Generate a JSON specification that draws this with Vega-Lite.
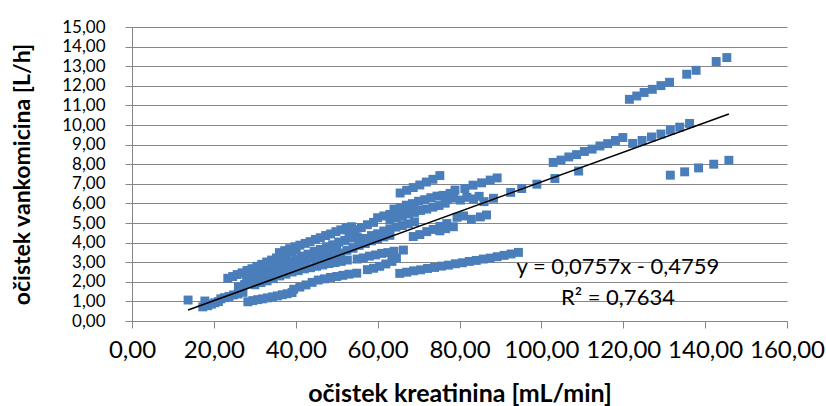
{
  "$schema": "https://vega.github.io/schema/vega-lite/v6.json",
  "width": 655,
  "height": 294,
  "autosize": {"type": "none"},
  "padding": {"left": 132, "top": 27, "right": 39, "bottom": 85},
  "background": "white",
  "config": {
    "view": {"stroke": null},
    "font": "Lato",
    "axis": {
      "labelFont": "Lato",
      "titleFont": "Lato",
      "labelColor": "#000000",
      "titleColor": "#000000",
      "domainColor": "#868686",
      "tickColor": "#868686",
      "gridColor": "#868686",
      "domainWidth": 1,
      "tickWidth": 1,
      "gridWidth": 1
    }
  },
  "datasets": {
    "pts": [
      {"x": 13.7, "y": 1.07}, {"x": 17.3, "y": 0.72}, {"x": 17.8, "y": 1.02}, {"x": 18.5, "y": 0.78}, {"x": 19.4, "y": 0.86}, {"x": 20.2, "y": 0.93}, {"x": 21.1, "y": 0.99}, {"x": 21.7, "y": 1.13}, {"x": 22.6, "y": 1.19}, {"x": 23.7, "y": 1.25}, {"x": 24.8, "y": 1.33}, {"x": 25.9, "y": 1.38}, {"x": 27.1, "y": 1.46},
      {"x": 23.4, "y": 2.18}, {"x": 24.6, "y": 2.27}, {"x": 25.7, "y": 2.37}, {"x": 26.9, "y": 2.46}, {"x": 28.1, "y": 2.58}, {"x": 29.3, "y": 2.67}, {"x": 30.5, "y": 2.79}, {"x": 31.7, "y": 2.89}, {"x": 32.9, "y": 3.01}, {"x": 34.1, "y": 3.11}, {"x": 35.3, "y": 3.22}, {"x": 36.5, "y": 3.33}, {"x": 37.7, "y": 3.43}, {"x": 38.9, "y": 3.54}, {"x": 40.1, "y": 3.63},
      {"x": 36.0, "y": 3.49}, {"x": 37.3, "y": 3.59}, {"x": 38.5, "y": 3.69}, {"x": 39.8, "y": 3.79}, {"x": 41.0, "y": 3.87}, {"x": 42.3, "y": 3.96}, {"x": 43.5, "y": 4.05}, {"x": 44.8, "y": 4.16}, {"x": 46.0, "y": 4.25}, {"x": 47.3, "y": 4.36}, {"x": 48.5, "y": 4.44}, {"x": 49.8, "y": 4.56}, {"x": 51.0, "y": 4.65}, {"x": 52.3, "y": 4.76}, {"x": 53.6, "y": 4.81},
      {"x": 53.0, "y": 4.53}, {"x": 54.5, "y": 4.66}, {"x": 56.0, "y": 4.77}, {"x": 57.5, "y": 4.91}, {"x": 59.0, "y": 5.03}, {"x": 60.0, "y": 5.27}, {"x": 61.5, "y": 5.36}, {"x": 63.0, "y": 5.44}, {"x": 64.5, "y": 5.56}, {"x": 66.0, "y": 5.65}, {"x": 67.5, "y": 5.79}, {"x": 68.9, "y": 5.91},
      {"x": 65.5, "y": 6.53}, {"x": 67.1, "y": 6.67}, {"x": 68.7, "y": 6.81}, {"x": 70.3, "y": 6.94}, {"x": 71.9, "y": 7.09}, {"x": 73.5, "y": 7.23}, {"x": 75.2, "y": 7.42},
      {"x": 64.0, "y": 5.71}, {"x": 65.5, "y": 5.79}, {"x": 67.0, "y": 5.91}, {"x": 68.5, "y": 5.99}, {"x": 70.0, "y": 6.11}, {"x": 71.5, "y": 6.19}, {"x": 73.0, "y": 6.29}, {"x": 74.5, "y": 6.37}, {"x": 76.0, "y": 6.41}, {"x": 77.7, "y": 6.51},
      {"x": 63.0, "y": 5.14}, {"x": 64.5, "y": 5.26}, {"x": 66.0, "y": 5.34}, {"x": 67.5, "y": 5.46}, {"x": 69.0, "y": 5.54}, {"x": 70.5, "y": 5.64}, {"x": 72.0, "y": 5.71}, {"x": 73.5, "y": 5.81}, {"x": 75.0, "y": 5.89}, {"x": 76.5, "y": 6.01},
      {"x": 77.0, "y": 6.19}, {"x": 78.6, "y": 6.27}, {"x": 80.2, "y": 6.17}, {"x": 81.8, "y": 6.31}, {"x": 83.4, "y": 6.23}, {"x": 84.8, "y": 6.36}, {"x": 86.0, "y": 6.09}, {"x": 88.3, "y": 6.26},
      {"x": 78.9, "y": 6.68}, {"x": 81.3, "y": 6.76}, {"x": 83.3, "y": 6.93}, {"x": 85.4, "y": 7.05}, {"x": 87.5, "y": 7.19}, {"x": 89.2, "y": 7.30},
      {"x": 92.5, "y": 6.56}, {"x": 95.2, "y": 6.76}, {"x": 98.9, "y": 6.98}, {"x": 103.3, "y": 7.27}, {"x": 109.1, "y": 7.65},
      {"x": 102.9, "y": 8.09}, {"x": 104.8, "y": 8.21}, {"x": 106.7, "y": 8.37}, {"x": 108.6, "y": 8.49}, {"x": 110.5, "y": 8.65}, {"x": 112.4, "y": 8.77}, {"x": 114.3, "y": 8.93}, {"x": 116.2, "y": 9.05}, {"x": 118.1, "y": 9.21}, {"x": 119.9, "y": 9.36},
      {"x": 122.3, "y": 9.06}, {"x": 124.6, "y": 9.21}, {"x": 126.9, "y": 9.39}, {"x": 129.2, "y": 9.54}, {"x": 131.5, "y": 9.73}, {"x": 133.8, "y": 9.89}, {"x": 136.2, "y": 10.08},
      {"x": 121.5, "y": 11.31}, {"x": 123.3, "y": 11.48}, {"x": 125.1, "y": 11.66}, {"x": 127.1, "y": 11.82}, {"x": 129.2, "y": 12.01}, {"x": 131.3, "y": 12.18}, {"x": 135.5, "y": 12.59}, {"x": 137.8, "y": 12.79}, {"x": 142.7, "y": 13.24}, {"x": 145.3, "y": 13.44},
      {"x": 131.5, "y": 7.44}, {"x": 135.0, "y": 7.61}, {"x": 138.4, "y": 7.81}, {"x": 142.1, "y": 8.00}, {"x": 145.8, "y": 8.20},
      {"x": 65.4, "y": 2.43}, {"x": 67.1, "y": 2.49}, {"x": 68.8, "y": 2.56}, {"x": 70.5, "y": 2.61}, {"x": 72.2, "y": 2.68}, {"x": 73.9, "y": 2.73}, {"x": 75.6, "y": 2.80}, {"x": 77.3, "y": 2.85}, {"x": 79.0, "y": 2.92}, {"x": 80.7, "y": 2.97}, {"x": 82.4, "y": 3.04}, {"x": 84.1, "y": 3.09}, {"x": 85.8, "y": 3.16}, {"x": 87.5, "y": 3.21}, {"x": 89.2, "y": 3.28}, {"x": 90.9, "y": 3.35}, {"x": 92.6, "y": 3.42}, {"x": 94.4, "y": 3.50},
      {"x": 28.3, "y": 0.98}, {"x": 29.5, "y": 1.04}, {"x": 30.7, "y": 1.09}, {"x": 31.9, "y": 1.13}, {"x": 33.1, "y": 1.18}, {"x": 34.3, "y": 1.23}, {"x": 35.5, "y": 1.28}, {"x": 36.7, "y": 1.34}, {"x": 37.9, "y": 1.39}, {"x": 39.1, "y": 1.45},
      {"x": 39.5, "y": 1.62}, {"x": 41.0, "y": 1.73}, {"x": 42.5, "y": 1.84}, {"x": 44.0, "y": 1.97}, {"x": 45.5, "y": 2.09}, {"x": 47.0, "y": 2.15}, {"x": 48.5, "y": 2.22}, {"x": 50.0, "y": 2.27}, {"x": 51.5, "y": 2.33}, {"x": 53.0, "y": 2.39}, {"x": 54.9, "y": 2.44},
      {"x": 30.0, "y": 1.85}, {"x": 31.5, "y": 1.96}, {"x": 33.0, "y": 2.05}, {"x": 34.5, "y": 2.16}, {"x": 36.1, "y": 2.30}, {"x": 37.6, "y": 2.39}, {"x": 39.1, "y": 2.50}, {"x": 40.6, "y": 2.57}, {"x": 42.1, "y": 2.66}, {"x": 43.6, "y": 2.72}, {"x": 45.1, "y": 2.79}, {"x": 46.6, "y": 2.86}, {"x": 48.1, "y": 2.93}, {"x": 49.6, "y": 2.98}, {"x": 51.1, "y": 3.04}, {"x": 52.6, "y": 3.11},
      {"x": 55.0, "y": 3.16}, {"x": 56.5, "y": 3.22}, {"x": 58.0, "y": 3.31}, {"x": 59.5, "y": 3.37}, {"x": 61.0, "y": 3.45}, {"x": 62.5, "y": 3.49}, {"x": 64.0, "y": 3.56}, {"x": 66.3, "y": 3.62},
      {"x": 57.5, "y": 2.62}, {"x": 59.0, "y": 2.69}, {"x": 60.5, "y": 2.79}, {"x": 62.0, "y": 2.91}, {"x": 63.5, "y": 3.04}, {"x": 64.6, "y": 3.21},
      {"x": 26.0, "y": 1.74}, {"x": 27.5, "y": 1.86}, {"x": 29.0, "y": 1.97}, {"x": 30.5, "y": 2.11}, {"x": 32.0, "y": 2.22}, {"x": 33.5, "y": 2.34}, {"x": 35.0, "y": 2.49}, {"x": 36.5, "y": 2.59}, {"x": 38.0, "y": 2.73}, {"x": 39.5, "y": 2.84}, {"x": 41.0, "y": 2.98}, {"x": 42.5, "y": 3.09}, {"x": 44.0, "y": 3.23}, {"x": 45.5, "y": 3.34}, {"x": 47.0, "y": 3.47}, {"x": 48.5, "y": 3.59}, {"x": 50.0, "y": 3.67},
      {"x": 28.0, "y": 2.24}, {"x": 29.5, "y": 2.36}, {"x": 31.0, "y": 2.44}, {"x": 32.5, "y": 2.56}, {"x": 34.0, "y": 2.67}, {"x": 35.5, "y": 2.81}, {"x": 37.0, "y": 2.91}, {"x": 38.5, "y": 3.06}, {"x": 40.0, "y": 3.17}, {"x": 41.5, "y": 3.31}, {"x": 43.0, "y": 3.41}, {"x": 44.5, "y": 3.56}, {"x": 46.0, "y": 3.65}, {"x": 47.5, "y": 3.79}, {"x": 49.0, "y": 3.89}, {"x": 50.5, "y": 4.03}, {"x": 52.0, "y": 4.11}, {"x": 53.5, "y": 4.23}, {"x": 55.0, "y": 4.29},
      {"x": 45.0, "y": 3.04}, {"x": 46.5, "y": 3.16}, {"x": 48.0, "y": 3.24}, {"x": 49.5, "y": 3.39}, {"x": 51.0, "y": 3.47}, {"x": 52.5, "y": 3.61}, {"x": 54.0, "y": 3.71}, {"x": 55.5, "y": 3.86}, {"x": 57.0, "y": 3.95}, {"x": 58.5, "y": 4.09}, {"x": 60.0, "y": 4.17}, {"x": 61.5, "y": 4.29}, {"x": 63.0, "y": 4.37},
      {"x": 55.5, "y": 4.11}, {"x": 57.0, "y": 4.21}, {"x": 58.5, "y": 4.36}, {"x": 60.0, "y": 4.45}, {"x": 61.5, "y": 4.59}, {"x": 63.0, "y": 4.67}, {"x": 64.5, "y": 4.79}, {"x": 66.0, "y": 4.87}, {"x": 67.5, "y": 4.96}, {"x": 69.0, "y": 5.06},
      {"x": 68.7, "y": 4.31}, {"x": 70.3, "y": 4.41}, {"x": 72.0, "y": 4.56}, {"x": 73.6, "y": 4.67}, {"x": 75.2, "y": 4.83}, {"x": 76.9, "y": 4.97},
      {"x": 75.2, "y": 4.60}, {"x": 76.6, "y": 4.71}, {"x": 78.5, "y": 4.81}, {"x": 79.4, "y": 5.29}, {"x": 81.0, "y": 5.36}, {"x": 82.9, "y": 5.19}, {"x": 85.1, "y": 5.31}, {"x": 86.6, "y": 5.41}
    ],
    "trend": [
      {"x": 13.7, "y": 0.5612},
      {"x": 145.8, "y": 10.5612}
    ],
    "notes": [
      {"x": 118.7, "y": 2.75, "label": "y = 0,0757x - 0,4759"},
      {"x": 118.7, "y": 1.17, "label": "R² = 0,7634"}
    ]
  },
  "encoding": {
    "x": {
      "field": "x",
      "type": "quantitative",
      "scale": {"domain": [0, 160], "nice": false, "zero": true},
      "axis": {
        "title": "očistek kreatinina [mL/min]",
        "values": [0, 20, 40, 60, 80, 100, 120, 140, 160],
        "grid": false,
        "tickSize": 7,
        "labelPadding": 10,
        "labelFontSize": 24,
        "labelExpr": "replace(format(datum.value, '.2f'), '.', ',')",
        "labelFlush": false,
        "labelOverlap": false,
        "titleFontSize": 25,
        "titleFontWeight": "bold",
        "titleBaseline": "middle",
        "titleY": 72
      }
    },
    "y": {
      "field": "y",
      "type": "quantitative",
      "scale": {"domain": [0, 15], "nice": false, "zero": true},
      "axis": {
        "title": "očistek vankomicina [L/h]",
        "values": [0, 1, 2, 3, 4, 5, 6, 7, 8, 9, 10, 11, 12, 13, 14, 15],
        "grid": true,
        "tickSize": 7,
        "labelPadding": 20,
        "labelFontSize": 17,
        "labelExpr": "replace(format(datum.value, '.2f'), '.', ',')",
        "labelFlush": false,
        "labelOverlap": false,
        "titleFontSize": 23,
        "titleFontWeight": "bold",
        "titleAlign": "center",
        "titleBaseline": "middle",
        "titleX": -110,
        "titleY": 147
      }
    }
  },
  "layer": [
    {
      "data": {"name": "pts"},
      "mark": {"type": "point", "shape": "square", "filled": true, "size": 80, "color": "#4A7EBB", "opacity": 1}
    },
    {
      "data": {"name": "trend"},
      "mark": {"type": "line", "color": "#000000", "strokeWidth": 1.5}
    },
    {
      "data": {"name": "notes"},
      "mark": {"type": "text", "fontSize": 22, "font": "Lato", "color": "#000000", "align": "center", "baseline": "middle"},
      "encoding": {
        "text": {"field": "label"}
      }
    }
  ]
}
